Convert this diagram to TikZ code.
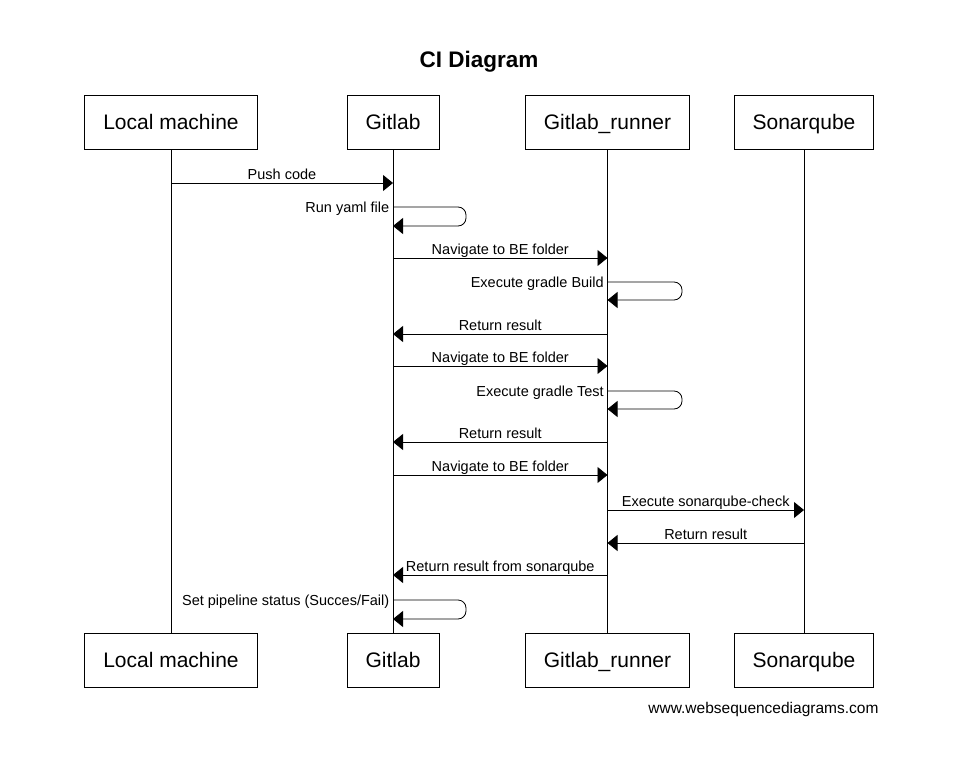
\documentclass[tikz,border=0pt]{standalone}
\usepackage{fontspec}
\setmainfont{Liberation Sans}
\usetikzlibrary{arrows.meta}

\tikzset{
    actor/.style={draw, line width=0.8pt, minimum height=54pt, inner xsep=18.5pt,
        text height=17pt, text depth=2.5pt, font=\fontsize{21}{25}\selectfont},
    msg/.style={line width=0.8pt, -{Triangle[length=10pt,width=16pt]}},
    msglabel/.style={font=\fontsize{14.5}{16}\selectfont, text depth=0pt},
    selfmsg/.style={msg, rounded corners=8pt},
}

\begin{document}
\begin{tikzpicture}[x=1pt, y=-1pt]
        \useasboundingbox (0,0) rectangle (979,757);

        % Titolo
        \node[font=\bfseries\fontsize{22.5}{26}\selectfont] (title) at (479,62) {CI Diagram};

        % Partecipanti (sopra e sotto)
        \node[actor] (lm)  at (171,122) {Local machine};
        \node[actor] (git) at (393,122) {Gitlab};
        \node[actor] (run) at (607.5,122) {Gitlab\_runner};
        \node[actor] (son) at (804,122) {Sonarqube};

        \node[actor] (lmb)  at (171,660) {Local machine};
        \node[actor] (gitb) at (393,660) {Gitlab};
        \node[actor] (runb) at (607.5,660) {Gitlab\_runner};
        \node[actor] (sonb) at (804,660) {Sonarqube};

        % Linee di vita
        \draw[line width=0.8pt] (lm.south) -- (lmb.north);
        \draw[line width=0.8pt] (git.south) -- (gitb.north);
        \draw[line width=0.8pt] (run.south) -- (runb.north);
        \draw[line width=0.8pt] (son.south) -- (sonb.north);

        % Messaggi
        \draw[msg] (lm.south |- 0,183) -- node[msglabel, above] {Push code} (git.south |- 0,183);
        \draw[selfmsg] (git.south |- 0,207) node[msglabel, left] {Run yaml file}
            -- (466,207) -- (466,226) -- (git.south |- 0,226);

        \draw[msg] (git.south |- 0,258) -- node[msglabel, above] {Navigate to BE folder} (run.south |- 0,258);
        \draw[selfmsg] (run.south |- 0,282) node[msglabel, left] {Execute gradle Build}
            -- (682,282) -- (682,300) -- (run.south |- 0,300);
        \draw[msg] (run.south |- 0,334) -- node[msglabel, above] {Return result} (git.south |- 0,334);

        \draw[msg] (git.south |- 0,366) -- node[msglabel, above] {Navigate to BE folder} (run.south |- 0,366);
        \draw[selfmsg] (run.south |- 0,391) node[msglabel, left] {Execute gradle Test}
            -- (682,391) -- (682,409) -- (run.south |- 0,409);
        \draw[msg] (run.south |- 0,442) -- node[msglabel, above] {Return result} (git.south |- 0,442);

        \draw[msg] (git.south |- 0,475) -- node[msglabel, above] {Navigate to BE folder} (run.south |- 0,475);
        \draw[msg] (run.south |- 0,510) -- node[msglabel, above] {Execute sonarqube-check} (son.south |- 0,510);
        \draw[msg] (son.south |- 0,543) -- node[msglabel, above] {Return result} (run.south |- 0,543);
        \draw[msg] (run.south |- 0,575) -- node[msglabel, above] {Return result from sonarqube} (git.south |- 0,575);
        \draw[selfmsg] (git.south |- 0,600) node[msglabel, left] {Set pipeline status (Succes/Fail)}
            -- (466,600) -- (466,619) -- (git.south |- 0,619);

        % Sito
        \node[anchor=east, font=\fontsize{15.5}{18}\selectfont] (site) at (882,709) {www.websequencediagrams.com};
    \end{tikzpicture}
\end{document}
